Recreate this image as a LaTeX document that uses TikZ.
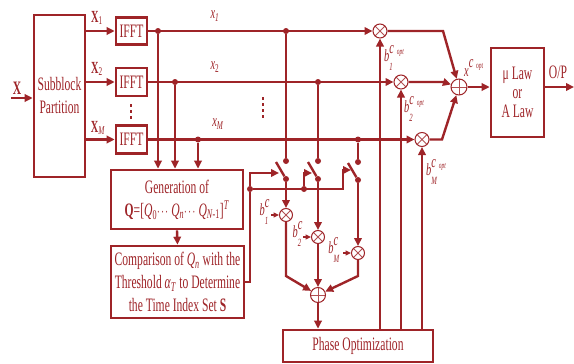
\documentclass[tikz,border=0pt]{standalone}
\usepackage{fontspec}
\usepackage{graphicx}
\setmainfont{Liberation Serif}[FakeStretch=0.61]
\usetikzlibrary{arrows.meta,calc}
\definecolor{dr}{RGB}{158,36,40}
\newcommand{\subsz}{\fontsize{11}{11}\selectfont}
\newcommand{\optsz}{\fontsize{9}{9}\selectfont}
\newcommand{\blab}[2]{\textit{b}\rlap{\raisebox{1.0ex}{\textit{#2}}}\raisebox{-1.1ex}{\subsz\textit{#1}}}
\newcommand{\copt}{\textit{c}\,\raisebox{-0.1ex}{\optsz opt}}
\newcommand{\tdots}{\scalebox{0.55}[1]{$\cdots$}}
\tikzset{
  box/.style={draw=dr, line width=2.7pt, rectangle, inner sep=0pt, text=dr, align=center,
    font=\fontsize{19}{23}\selectfont},
  wire/.style={draw=dr, line width=2.4pt},
  arr/.style={wire, -{Triangle[length=8pt,width=7.5pt]}},
  sarr/.style={draw=dr, line width=1.5pt, -{Triangle[length=5.5pt,width=5pt]}},
  mult/.style={circle, draw=dr, line width=1pt, minimum size=14pt, inner sep=0pt, fill=white,
    path picture={\draw[dr!80, line width=0.8pt]
      (path picture bounding box.north west) -- (path picture bounding box.south east)
      (path picture bounding box.north east) -- (path picture bounding box.south west);}},
  summ/.style={circle, draw=dr, line width=1pt, minimum size=15pt, inner sep=0pt, fill=white,
    path picture={\draw[dr!80, line width=0.8pt]
      (path picture bounding box.north) -- (path picture bounding box.south)
      (path picture bounding box.east) -- (path picture bounding box.west);}},
  jdot/.style={circle, fill=dr, inner sep=0pt, minimum size=6pt},
  lab/.style={text=dr, inner sep=0pt, font=\fontsize{17}{18}\selectfont},
  vdots/.style={draw=dr, line width=2.6pt, dash pattern=on 3pt off 3pt}
}
\begin{document}
\begin{tikzpicture}[x=1pt,y=-1pt]
\useasboundingbox (0,0) rectangle (574,364);

% boxes
\node[box, minimum width=51pt, minimum height=162pt] (sub) at (59.5,96) {Subblock\\Partition};
\node[box, minimum width=31pt, minimum height=27pt] (f1) at (131.5,31) {IFFT};
\node[box, minimum width=31pt, minimum height=28pt] (f2) at (131.5,82) {IFFT};
\node[box, minimum width=31pt, minimum height=28pt] (fM) at (131.5,139.5) {IFFT};
\node[box, minimum width=132pt, minimum height=59pt] (gen) at (177,199.5)
  {Generation of\\\textbf{Q}=[\textit{Q}\textsubscript{0}\tdots\,\textit{Q}\textsubscript{\textit{n}}\tdots\,\textit{Q}\textsubscript{\textit{N}-1}]\textsuperscript{\textit{T}}};
\node[box, minimum width=133pt, minimum height=72pt] (cmp) at (177.5,282)
  {Comparison of \textit{Q}\textsubscript{\textit{n}} with the\\Threshold \textit{α}\textsubscript{\textit{T}} to Determine\\the Time Index Set \textbf{S}};
\node[box, minimum width=150pt, minimum height=32pt] (ph) at (358,346) {Phase Optimization};
\node[box, minimum width=53pt, minimum height=89pt, font=\fontsize{19}{19}\selectfont] (law) at (517.5,92.5) {μ Law\\or\\A Law};

% multipliers and adders
\node[mult] (m1) at (380,31) {};
\node[mult] (m2) at (401,82) {};
\node[mult] (mM) at (422,139.5) {};
\node[summ, minimum size=16pt] (s) at (459,87) {};
\node[mult, minimum size=13pt] (l1) at (286,215) {};
\node[mult, minimum size=13pt] (l2) at (318,237) {};
\node[mult, minimum size=13pt] (lM) at (358,253) {};
\node[summ] (ls) at (318,295) {};

% junction dots
\node[jdot] (d1a) at (158,31) {};
\node[jdot] (d1b) at (286,31) {};
\node[jdot] (d2a) at (175,82) {};
\node[jdot] (d2b) at (318,82) {};
\node[jdot] (dMa) at (198,139.5) {};
\node[jdot] (dMb) at (358,139.5) {};
\node[jdot] (t1) at (286,161) {};
\node[jdot] (u1) at (286,179) {};
\node[jdot] (t2) at (318,161) {};
\node[jdot] (u2) at (318,179) {};
\node[jdot] (t3) at (358,162) {};
\node[jdot] (u3) at (358,180) {};
\node[jdot] (c1) at (250,189) {};
\node[jdot] (c2) at (304,189) {};

% coordinates for free ends and bends
\coordinate (in) at (11,98);
\coordinate (out) at (574,87);
\coordinate (k1) at (279,173);
\coordinate (k2) at (312,173);
\coordinate (c3) at (343,189);
\coordinate (k3) at (351,170);
\coordinate (e1) at (286,276);
\coordinate (eM) at (358,276);
\coordinate (g1) at (443,31);
\coordinate (g2) at (443,82);
\coordinate (gM) at (442,139.5);
\coordinate (b1s) at (271,215);
\coordinate (b2s) at (303,237);
\coordinate (bMs) at (343,253);

% input and partition outputs
\draw[arr] (in) -- (in -| sub.west);
\draw[arr] (sub.east |- f1) -- (f1.west);
\draw[arr] (sub.east |- f2) -- (f2.west);
\draw[arr] (sub.east |- fM) -- (fM.west);

% main signal lines
\draw[arr] (f1.east) -- (m1.west);
\draw[arr] (f2.east) -- (m2.west);
\draw[arr] (fM.east) -- (mM.west);

% taps to generation block
\draw[arr] (d1a) -- (d1a |- gen.north);
\draw[arr] (d2a) -- (d2a |- gen.north);
\draw[arr] (dMa) -- (dMa |- gen.north);
\draw[arr] (gen.south) -- (cmp.north);

% taps to switches
\draw[wire] (d1b) -- (t1);
\draw[wire] (d2b) -- (t2);
\draw[wire] (dMb) -- (t3);
\draw[wire] (u1) -- ++(-10,-17);
\draw[wire] (u2) -- ++(-10,-17);
\draw[wire] (u3) -- ++(-10,-17);

% switch control
\draw[arr] (cmp.east) -| (c1) |- (k1);
\draw[arr] (c1) -- (c3) |- (k3);
\draw[arr] (c2) |- (k2);

% switch outputs to lower multipliers
\draw[arr] (u1) -- (l1.north);
\draw[arr] (u2) -- (l2.north);
\draw[arr] (u3) -- (lM.north);
\draw[sarr] (b1s) -- (l1.west);
\draw[sarr] (b2s) -- (l2.west);
\draw[sarr] (bMs) -- (lM.west);

% lower adder
\draw[arr] (l1.south) -- (e1) -- (ls);
\draw[arr] (l2.south) -- (ls.north);
\draw[arr] (lM.south) -- (eM) -- (ls);
\draw[arr] (ls.south) -- (ls.south |- ph.north);

% phase optimization outputs
\draw[arr] (ph.north -| m1) -- (m1.south);
\draw[arr] (ph.north -| m2) -- (m2.south);
\draw[arr] (ph.north -| mM) -- (mM.south);

% top adder
\draw[arr] (m1.east) -- (g1) -- (s);
\draw[arr] (m2.east) -- (g2) -- (s);
\draw[arr] (mM.east) -- (gM) -- (s);
\draw[arr] (s.east) -- (law.west |- s);
\draw[arr] (law.east |- s) -- (out);

% vertical ellipses
\draw[vdots] (131,104) -- (131,119);
\draw[vdots] (263,97) -- (263,118);

% labels
\node[lab, font=\fontsize{19}{19}\selectfont] at (17,88) {\textbf{X}};
\node[lab] at (97,18) {\textbf{X}\textsubscript{1}};
\node[lab] at (97,69) {\textbf{X}\textsubscript{2}};
\node[lab] at (98,128) {\textbf{X}\textsubscript{\textit{M}}};
\node[lab] at (215,16) {\textit{x}\textsubscript{\textit{1}}};
\node[lab] at (215,67) {\textit{x}\textsubscript{2}};
\node[lab] at (218,124) {\textit{x}\textsubscript{\textit{M}}};
\node[lab] at (264,212) {\blab{1}{c}};
\node[lab] at (297,234) {\blab{2}{c}};
\node[lab] at (334,250) {\blab{M}{c}};
\node[lab, anchor=west] at (384,58) {\blab{1}{\copt}};
\node[lab, anchor=west] at (404,109) {\blab{2}{\copt}};
\node[lab, anchor=west] at (426,172) {\blab{M}{\copt}};
\node[lab, anchor=west] at (464,68) {\textit{x}\raisebox{1.1ex}{\copt}};
\node[lab, font=\fontsize{19}{19}\selectfont] at (558,72) {O/P};
\end{tikzpicture}
\end{document}
